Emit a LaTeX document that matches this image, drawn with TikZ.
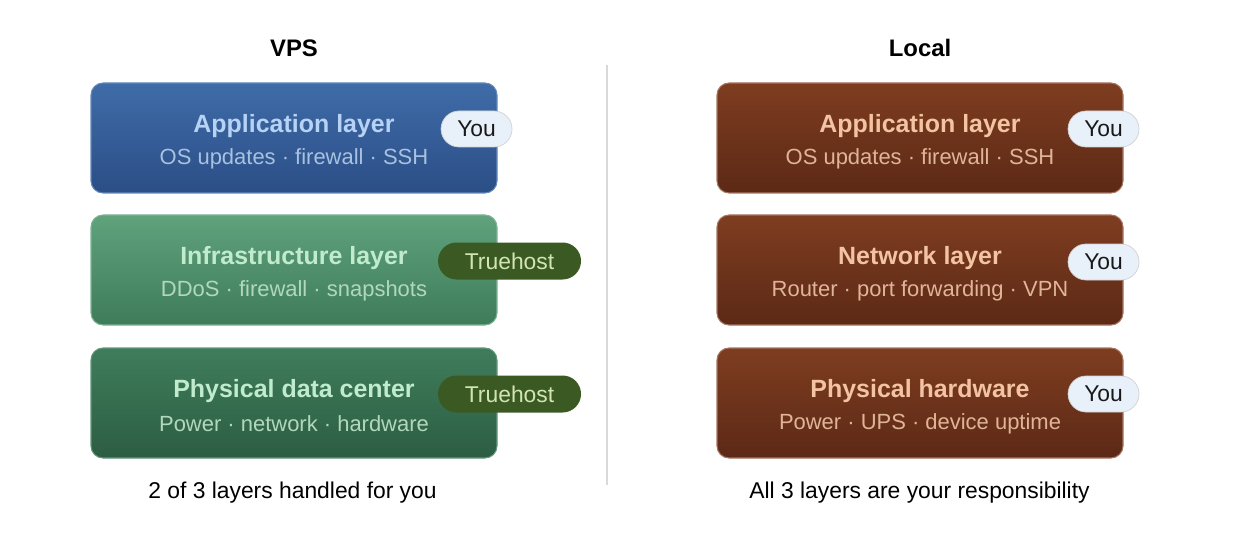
\documentclass[tikz,border=0pt]{standalone}
\usepackage{fontspec}
\setmainfont{Liberation Sans}
\usetikzlibrary{positioning}
\definecolor{appblue}{HTML}{3F6CA8}
\definecolor{appbluedk}{HTML}{2B4E86}
\definecolor{infragreen}{HTML}{5FA27C}
\definecolor{infragreendk}{HTML}{3F7C5A}
\definecolor{physgreen}{HTML}{3F7D5B}
\definecolor{physgreendk}{HTML}{2C5D43}
\definecolor{rust}{HTML}{7E3D20}
\definecolor{rustdk}{HTML}{5C2916}
\definecolor{youfill}{HTML}{E8F0FA}
\definecolor{hostfill}{HTML}{3B5A23}
\definecolor{hosttext}{HTML}{D3E4B4}
\definecolor{bluetext}{HTML}{B6D2F4}
\definecolor{greentext}{HTML}{C0EBCD}
\definecolor{rusttext}{HTML}{F3C4A4}

\begin{document}
\begin{tikzpicture}[x=1cm,y=1cm,
  layer/.style={rounded corners=0.24cm,minimum width=8.12cm,minimum height=2.2cm,line width=.6pt},
  ltitle/.style={font=\bfseries\fontsize{14.2}{17}\selectfont,inner sep=0pt},
  lsub/.style={font=\fontsize{12.5}{15}\selectfont,inner sep=0pt},
  you/.style={draw=black!18,fill=youfill,rounded corners=0.36cm,minimum width=1.42cm,minimum height=0.72cm,inner sep=0pt,font=\fontsize{13}{15}\selectfont,text=black!90},
  host/.style={fill=hostfill,rounded corners=0.37cm,minimum width=2.86cm,minimum height=0.74cm,inner sep=0pt,font=\fontsize{13}{15}\selectfont,text=hosttext}]

\useasboundingbox (0,0) rectangle (24.68,10.76);

% column headings
\node[font=\bfseries\fontsize{13.6}{16}\selectfont] (vpshead) at (5.88,9.80) {VPS};
\node[font=\bfseries\fontsize{13.6}{16}\selectfont] (lochead) at (18.40,9.80) {Local};
\draw[black!15,line width=.8pt] (12.14,9.46) -- (12.14,1.06);

% VPS stack
\node[layer,draw=appblue!80!white,top color=appblue,bottom color=appbluedk] (vpsapp) at (5.88,8.00) {};
\node[layer,draw=infragreen!80!white,top color=infragreen,bottom color=infragreendk] (vpsinfra) at (5.88,5.36) {};
\node[layer,draw=physgreen!80!white,top color=physgreen,bottom color=physgreendk] (vpsphys) at (5.88,2.70) {};
\node[ltitle,text=bluetext] (vpsappt) at ([yshift=0.23cm]vpsapp.center) {Application layer};
\node[lsub,text=bluetext!92!black] (vpsapps) at ([yshift=-0.42cm]vpsapp.center) {OS updates · firewall · SSH};
\node[ltitle,text=greentext] (vpsinfrat) at ([yshift=0.23cm]vpsinfra.center) {Infrastructure layer};
\node[lsub,text=greentext!92!black] (vpsinfras) at ([yshift=-0.42cm]vpsinfra.center) {DDoS · firewall · snapshots};
\node[ltitle,text=greentext] (vpsphyst) at ([yshift=0.23cm]vpsphys.center) {Physical data center};
\node[lsub,text=greentext!92!black] (vpsphyss) at ([yshift=-0.42cm]vpsphys.center) {Power · network · hardware};
\node[you] (vpsappyou) at ([xshift=-0.42cm,yshift=0.18cm]vpsapp.east) {You};
\node[host] (vpsinfrahost) at ([xshift=0.24cm,yshift=0.18cm]vpsinfra.east) {Truehost};
\node[host] (vpsphyshost) at ([xshift=0.24cm,yshift=0.18cm]vpsphys.east) {Truehost};
\node[font=\fontsize{13}{15}\selectfont] (vpsnote) at (5.85,0.90) {2 of 3 layers handled for you};

% Local stack
\node[layer,draw=rust!70!white,top color=rust,bottom color=rustdk] (locapp) at (18.40,8.00) {};
\node[layer,draw=rust!70!white,top color=rust,bottom color=rustdk] (locnet) at (18.40,5.36) {};
\node[layer,draw=rust!70!white,top color=rust,bottom color=rustdk] (lochw) at (18.40,2.70) {};
\node[ltitle,text=rusttext] (locappt) at ([yshift=0.23cm]locapp.center) {Application layer};
\node[lsub,text=rusttext!92!black] (locapps) at ([yshift=-0.42cm]locapp.center) {OS updates · firewall · SSH};
\node[ltitle,text=rusttext] (locnett) at ([yshift=0.23cm]locnet.center) {Network layer};
\node[lsub,text=rusttext!92!black] (locnets) at ([yshift=-0.42cm]locnet.center) {Router · port forwarding · VPN};
\node[ltitle,text=rusttext] (lochwt) at ([yshift=0.23cm]lochw.center) {Physical hardware};
\node[lsub,text=rusttext!92!black] (lochws) at ([yshift=-0.42cm]lochw.center) {Power · UPS · device uptime};
\node[you] (locappyou) at ([xshift=-0.40cm,yshift=0.18cm]locapp.east) {You};
\node[you] (locnetyou) at ([xshift=-0.40cm,yshift=0.16cm]locnet.east) {You};
\node[you] (lochwyou) at ([xshift=-0.40cm,yshift=0.18cm]lochw.east) {You};
\node[font=\fontsize{13}{15}\selectfont] (locnote) at (18.39,0.90) {All 3 layers are your responsibility};
\end{tikzpicture}
\end{document}
